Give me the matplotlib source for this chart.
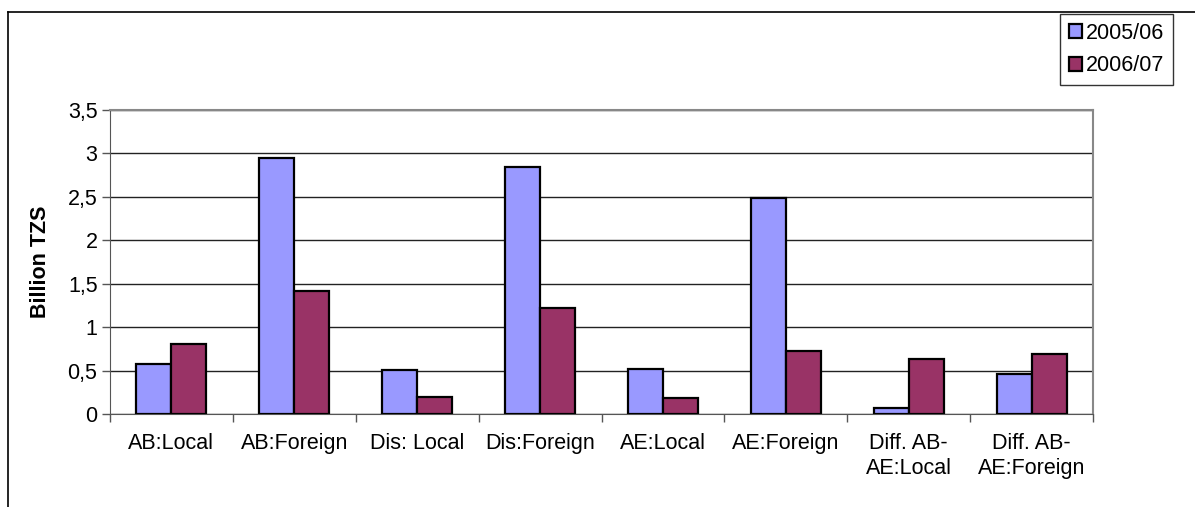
import matplotlib.pyplot as plt
import numpy as np
from matplotlib.lines import Line2D

kategooriad=["AB:Local","AB:Foreign","Dis: Local","Dis:Foreign","AE:Local","AE:Foreign","Diff. AB-\nAE:Local","Diff. AB-\nAE:Foreign"]
y2005=[0.58,2.95,0.51,2.84,0.52,2.49,0.07,0.46]
y2006=[0.81,1.42,0.20,1.22,0.18,0.72,0.63,0.69]
yticks=[0,0.5,1,1.5,2,2.5,3,3.5]
ytick_labels=["0","0,5","1","1,5","2","2,5","3","3,5"]

plt.rcParams['font.family']=['Liberation Sans','DejaVu Sans']
fig=plt.figure(figsize=(11.95,5.07),dpi=100)
W,H=1195,507
ax=fig.add_axes([110/W,1-414/H,(1093-110)/W,(414-110)/H])

x=np.arange(len(kategooriad))
w=0.285
ax.bar(x-w/2,y2005,w,color="#9999FF",edgecolor="black",linewidth=1.6,label="2005/06",zorder=3)
ax.bar(x+w/2,y2006,w,color="#993366",edgecolor="black",linewidth=1.6,label="2006/07",zorder=3)

ax.set_xlim(-0.5,len(kategooriad)-0.5)
ax.set_ylim(0,3.5)
ax.set_yticks(yticks)
ax.set_yticklabels(ytick_labels,fontsize=15.5)
ax.set_xticks(x)
ax.set_xticklabels(kategooriad,fontsize=15.5,linespacing=1.25)
ax.tick_params(axis='x',length=0,pad=14)
ax.set_xticks(np.arange(-0.5,len(kategooriad),1),minor=True)
ax.tick_params(axis='x',which='minor',length=6,width=1,color="#555555",direction='out')
ax.tick_params(axis='y',length=6,width=1,color="#555555",direction='out',pad=3)
ax.grid(axis='y',color="#222222",linewidth=1,zorder=0)
ax.spines['top'].set_color("#888888")
ax.spines['right'].set_color("#888888")
ax.spines['top'].set_linewidth(1.5)
ax.spines['right'].set_linewidth(1.5)
ax.spines['left'].set_color("#555555")
ax.spines['bottom'].set_color("#555555")
ax.set_ylabel("Billion TZS",fontsize=15.5,fontweight='bold',labelpad=12)

leg=fig.legend(loc='upper right',bbox_to_anchor=(1173/W,1-14/H),fontsize=15.5,
               handlelength=0.6,handleheight=0.6,handletextpad=0.2,labelspacing=0.55,
               borderpad=0.4,borderaxespad=0,fancybox=False,framealpha=1,edgecolor="#333333")
leg.get_frame().set_linewidth(1)

# raam ümber joonise
fig.add_artist(Line2D([8/W,1],[1-12/H,1-12/H],color="black",linewidth=1.2))
fig.add_artist(Line2D([8/W,8/W],[0,1-12/H],color="black",linewidth=1.2))

plt.savefig("out.png",dpi=100)
